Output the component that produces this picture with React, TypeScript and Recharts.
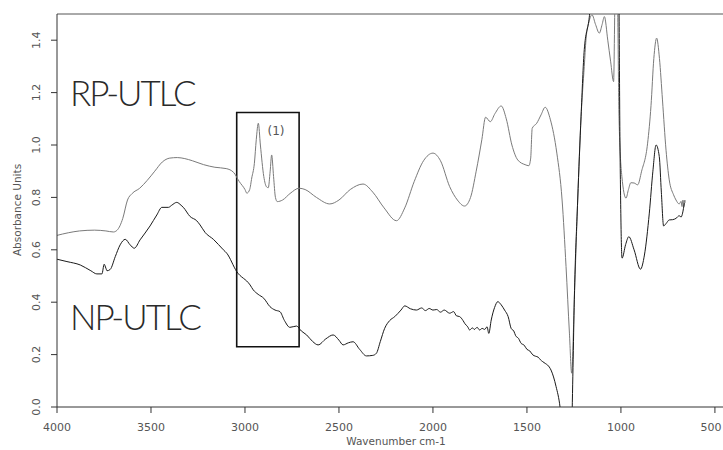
import React from "react";
import { LineChart, Line, XAxis, YAxis, ReferenceArea, ReferenceLine } from "recharts";

// RP-UTLC spectrum (upper, grey trace)
const rpWavenumber = [
  4000, 3940, 3880, 3800, 3740, 3700, 3680, 3650, 3625, 3600, 3560, 3520, 3480, 3440, 3400, 3360,
  3320, 3280, 3220, 3160, 3100, 3060, 3030, 3000, 2990, 2975, 2964, 2950, 2940, 2929, 2918, 2900,
  2885, 2876, 2866, 2858, 2848, 2838, 2828, 2800, 2760, 2712, 2680, 2620, 2549, 2500, 2440, 2372,
  2320, 2260, 2194, 2150, 2100, 2050, 2000, 1960, 1911, 1870, 1832, 1800, 1770, 1740, 1720, 1695,
  1670, 1637, 1610, 1580, 1549, 1510, 1490, 1480, 1472, 1448, 1425, 1403, 1375, 1341, 1313, 1292,
  1274, 1262, 1248, 1230, 1212, 1195, 1186, 1170, 1154, 1135, 1115, 1100, 1088, 1070, 1055, 1039,
  1030, 1020, 1010, 995, 973, 960, 947, 930, 911, 890, 858, 840, 825, 810, 795, 779,
  760, 743, 720, 707, 690, 680, 675, 670, 665, 660, 658,
];
const rpAbsorbance = [
  0.655, 0.665, 0.672, 0.675, 0.672, 0.668, 0.675, 0.72, 0.79, 0.815, 0.835, 0.865, 0.9, 0.935, 0.95, 0.952,
  0.948, 0.94, 0.925, 0.915, 0.91, 0.895, 0.86, 0.83, 0.816, 0.83, 0.874, 0.93, 1.02, 1.083, 1.0, 0.88,
  0.84, 0.837, 0.9, 0.962, 0.88, 0.8, 0.784, 0.79, 0.815, 0.835, 0.83, 0.8, 0.775, 0.79, 0.83, 0.851,
  0.82, 0.76, 0.711, 0.76, 0.86, 0.94, 0.969, 0.94, 0.841, 0.79, 0.767, 0.8, 0.9, 1.02, 1.106, 1.089,
  1.12, 1.149, 1.1, 1.0, 0.943, 0.925, 0.921, 0.95, 1.064, 1.083, 1.115, 1.144, 1.096, 0.969, 0.79, 0.536,
  0.282, 0.129, 0.409, 0.79, 1.108, 1.3, 1.401, 1.47, 1.497, 1.46, 1.427, 1.46, 1.49, 1.4, 1.32, 1.242,
  1.6, 1.6, 1.1, 0.88, 0.797, 0.83, 0.856, 0.855, 0.848, 0.9, 1.007, 1.15, 1.33, 1.408, 1.33, 1.172,
  0.98, 0.867, 0.81, 0.79, 0.775, 0.785, 0.765, 0.79, 0.765, 0.79, 0.78,
];

// NP-UTLC spectrum (lower, black trace)
const npWavenumber = [
  4000, 3947, 3876, 3820, 3788, 3761, 3749, 3740, 3734, 3717, 3690, 3664, 3637, 3611, 3589, 3558,
  3505, 3469, 3442, 3407, 3390, 3363, 3340, 3328, 3292, 3257, 3239, 3212, 3168, 3115, 3097, 3044,
  2973, 2956, 2930, 2900, 2867, 2840, 2814, 2790, 2761, 2726, 2700, 2672, 2640, 2611, 2570, 2531,
  2500, 2478, 2450, 2425, 2390, 2354, 2320, 2301, 2280, 2257, 2230, 2203, 2170, 2150, 2120, 2088,
  2060, 2040, 2020, 2000, 1980, 1960, 1940, 1911, 1890, 1875, 1858, 1840, 1830, 1815, 1805, 1790,
  1780, 1765, 1752, 1738, 1725, 1712, 1703, 1690, 1672, 1655, 1637, 1619, 1600, 1584, 1570, 1560,
  1545, 1531, 1515, 1500, 1485, 1469, 1455, 1440, 1428, 1416, 1400, 1390, 1372, 1345, 1324, 1300,
  1275, 1262, 1255, 1248, 1230, 1212, 1195, 1170, 1150, 1030, 1012, 1005, 994, 975, 958, 930,
  896, 875, 849, 830, 813, 796, 785, 773, 760, 743, 725, 707, 690, 680, 672, 663,
];
const npAbsorbance = [
  0.564, 0.555, 0.542, 0.52, 0.508, 0.508, 0.545, 0.53, 0.52, 0.525, 0.574, 0.619, 0.64, 0.619, 0.606, 0.638,
  0.691, 0.733, 0.762, 0.762, 0.77, 0.781, 0.77, 0.762, 0.727, 0.711, 0.695, 0.666, 0.64, 0.6, 0.587, 0.517,
  0.466, 0.447, 0.43, 0.415, 0.383, 0.37, 0.364, 0.33, 0.304, 0.309, 0.29, 0.275, 0.25, 0.237, 0.26, 0.275,
  0.255, 0.237, 0.245, 0.249, 0.22, 0.195, 0.197, 0.205, 0.25, 0.3, 0.33, 0.345, 0.37, 0.386, 0.375, 0.37,
  0.378, 0.368, 0.376, 0.37, 0.372, 0.362, 0.37, 0.358, 0.364, 0.348, 0.345, 0.33, 0.318, 0.306, 0.294, 0.302,
  0.296, 0.304, 0.294, 0.3, 0.296, 0.306, 0.281, 0.332, 0.38, 0.402, 0.39, 0.37, 0.345, 0.3, 0.29, 0.272,
  0.262, 0.243, 0.236, 0.22, 0.214, 0.199, 0.194, 0.19, 0.18, 0.173, 0.165, 0.16, 0.141, 0.078, 0.0, -0.2,
  -0.3, -0.1, 0.15, 0.409, 0.79, 1.11, 1.364, 1.478, 1.6, 1.6, 1.6, 1.0, 0.568, 0.62, 0.65, 0.6,
  0.526, 0.58, 0.74, 0.9, 1.0, 0.956, 0.82, 0.691, 0.7, 0.714, 0.715, 0.72, 0.73, 0.725, 0.74, 0.778,
];

const xTicks = [4000, 3500, 3000, 2500, 2000, 1500, 1000, 500];
const yTicks = [0, 0.2, 0.4, 0.6, 0.8, 1.0, 1.2, 1.4];

const rpData = rpWavenumber.map((w, i) => ({ w, a: rpAbsorbance[i] }));
const npData = npWavenumber.map((w, i) => ({ w, a: npAbsorbance[i] }));

const tickFont = "'DejaVu Sans', sans-serif";
const labelFont = "Lato, 'DejaVu Sans', sans-serif";

const XTick = (props: any) => (
  <text x={props.x} y={431} textAnchor="middle" fontSize={11} fontFamily={tickFont} fill="#555">
    {props.payload.value}
  </text>
);

const YTick = (props: any) => (
  <text
    x={40}
    y={props.y}
    textAnchor="middle"
    fontSize={11}
    fontFamily={tickFont}
    fill="#555"
    transform={`rotate(-90, 40, ${props.y})`}
  >
    {Number(props.payload.value).toFixed(1)}
  </text>
);

export default function App() {
  return (
    <div style={{ position: "absolute", left: 0, top: 0, background: "#fff" }}>
      <LineChart width={723} height={450} margin={{ top: 14, right: 0, bottom: 0, left: 0 }}>
        <XAxis
          type="number"
          dataKey="w"
          domain={[457, 4000]}
          reversed
          allowDataOverflow
          ticks={xTicks}
          tick={XTick}
          height={43}
          stroke="#333"
          tickSize={6}
        />
        <YAxis
          type="number"
          domain={[0, 1.5]}
          allowDataOverflow
          ticks={yTicks}
          tick={YTick}
          width={57}
          stroke="#333"
          tickSize={6}
        />
        <ReferenceLine y={1.5} stroke="#555" strokeWidth={1} />
        <ReferenceArea
          x1={3044}
          x2={2712}
          y1={0.23}
          y2={1.124}
          fill="none"
          fillOpacity={0}
          stroke="#111"
          strokeWidth={1.6}
        />
        <Line
          data={rpData}
          dataKey="a"
          type="monotone"
          stroke="#7a7a7a"
          strokeWidth={1}
          dot={false}
          isAnimationActive={false}
        />
        <Line
          data={npData}
          dataKey="a"
          type="monotone"
          stroke="#1a1a1a"
          strokeWidth={1}
          dot={false}
          isAnimationActive={false}
        />
        <text x={70} y={106} fontSize={35} fontWeight={300} fontFamily={labelFont} letterSpacing={-2} fill="#2a2a2a">
          RP-UTLC
        </text>
        <text x={70} y={330} fontSize={35} fontWeight={300} fontFamily={labelFont} letterSpacing={-2} fill="#2a2a2a">
          NP-UTLC
        </text>
        <text x={276} y={135} textAnchor="middle" fontSize={12} fontFamily={tickFont} fill="#555">
          (1)
        </text>
        <text x={396} y={445} textAnchor="middle" fontSize={10.5} fontFamily={tickFont} fill="#555">
          Wavenumber cm-1
        </text>
        <text
          x={20.5}
          y={210}
          textAnchor="middle"
          fontSize={10.5}
          fontFamily={tickFont}
          fill="#555"
          transform="rotate(-90, 20.5, 210)"
        >
          Absorbance Units
        </text>
      </LineChart>
    </div>
  );
}
